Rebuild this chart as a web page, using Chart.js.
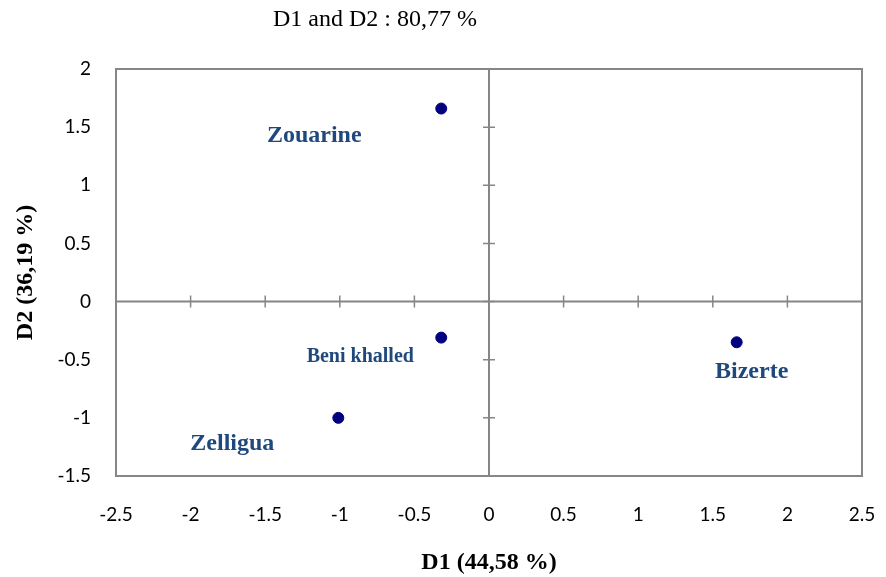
<!DOCTYPE html>
<html>
<head>
<meta charset="utf-8">
<script src="https://cdn.jsdelivr.net/npm/chart.js@4/dist/chart.umd.min.js"></script>
<style>
  html, body { margin: 0; padding: 0; background: #ffffff; }
  #wrap { width: 886px; height: 577px; }
</style>
</head>
<body>
<div id="wrap"><canvas id="c" width="886" height="577"></canvas></div>
<script>
// ---- data ----
const siteNames = ["Zouarine", "Beni khalled", "Zelligua", "Bizerte"];
const d1Values = [-0.32, -0.32, -1.01, 1.66];
const d2Values = [1.66, -0.31, -1.00, -0.35];
const chartTitle = "D1 and D2 : 80,77 %";
const xAxisTitle = "D1 (44,58 %)";
const yAxisTitle = "D2 (36,19 %)";
const xRange = [-2.5, 2.5];
const yRange = [-1.5, 2];

// ---- label styling (offsets in px from each point) ----
const labelStyle = [
  { dx: -127, dy: 27, size: 24 },
  { dx: -81, dy: 19, size: 20 },
  { dx: -106, dy: 26, size: 24 },
  { dx: 15, dy: 30, size: 24 }
];

const points = d1Values.map((x, i) => ({ x: x, y: d2Values[i] }));

const axisColor = "#868686";

const framePlugin = {
  id: "frame",
  beforeDatasetsDraw(chart) {
    const { ctx, chartArea: a, scales } = chart;
    const xs = scales.x, ys = scales.y;
    ctx.save();
    ctx.strokeStyle = axisColor;
    ctx.lineWidth = 2;
    ctx.strokeRect(a.left, a.top, a.right - a.left, a.bottom - a.top);
    const x0 = xs.getPixelForValue(0);
    const y0 = ys.getPixelForValue(0);
    ctx.beginPath();
    ctx.moveTo(a.left, y0); ctx.lineTo(a.right, y0);
    ctx.moveTo(x0, a.top); ctx.lineTo(x0, a.bottom);
    ctx.stroke();
    // cross tick marks on zero axes
    ctx.lineWidth = 1.5;
    ctx.beginPath();
    xs.ticks.forEach(t => {
      const px = xs.getPixelForValue(t.value);
      ctx.moveTo(px, y0 - 6); ctx.lineTo(px, y0 + 6);
    });
    ys.ticks.forEach(t => {
      const py = ys.getPixelForValue(t.value);
      ctx.moveTo(x0 - 6, py); ctx.lineTo(x0 + 6, py);
    });
    ctx.stroke();
    ctx.restore();
  },
  afterDatasetsDraw(chart) {
    const { ctx } = chart;
    const meta = chart.getDatasetMeta(0);
    ctx.save();
    ctx.fillStyle = "#1f497d";
    ctx.textAlign = "center";
    ctx.textBaseline = "middle";
    meta.data.forEach((el, i) => {
      const st = labelStyle[i];
      ctx.font = "bold " + st.size + "px 'Liberation Serif', 'Times New Roman', serif";
      ctx.fillText(siteNames[i], el.x + st.dx, el.y + st.dy);
    });
    // chart title
    ctx.fillStyle = "#000000";
    ctx.font = "24px 'Liberation Serif', 'Times New Roman', serif";
    ctx.fillText(chartTitle, 375, 20);
    ctx.restore();
  }
};

const fmt = v => String(Math.round(v * 10) / 10);

new Chart(document.getElementById("c"), {
  type: "scatter",
  data: {
    datasets: [{
      label: "sites",
      data: points,
      backgroundColor: "#000080",
      borderColor: "#000080",
      pointRadius: 5.5,
      pointHoverRadius: 5.5
    }]
  },
  options: {
    responsive: false,
    animation: false,
    events: [],
    layout: { padding: { top: 69, right: 24, left: 0, bottom: 0 } },
    plugins: {
      legend: { display: false },
      title: { display: false },
      tooltip: { enabled: false }
    },
    scales: {
      x: {
        type: "linear",
        min: xRange[0], max: xRange[1],
        grid: { display: false, drawTicks: false },
        border: { display: false },
        ticks: {
          stepSize: 0.5,
          padding: 27,
          color: "#000000",
          callback: fmt,
          font: { family: "Lato, 'Liberation Sans', sans-serif", size: 19 }
        },
        title: {
          display: true,
          text: xAxisTitle,
          color: "#000000",
          padding: { top: 0, bottom: 0 },
          font: { family: "'Liberation Serif', 'Times New Roman', serif", size: 24, weight: "bold" }
        },
        afterFit(scale) { scale.height = 101; scale.paddingRight = 0; scale.paddingLeft = 0; }
      },
      y: {
        type: "linear",
        min: yRange[0], max: yRange[1],
        grid: { display: false, drawTicks: false },
        border: { display: false },
        ticks: {
          stepSize: 0.5,
          padding: 25,
          color: "#000000",
          callback: fmt,
          font: { family: "Lato, 'Liberation Sans', sans-serif", size: 19 }
        },
        title: {
          display: true,
          text: yAxisTitle,
          color: "#000000",
          padding: { top: 11, bottom: 0 },
          font: { family: "'Liberation Serif', 'Times New Roman', serif", size: 24, weight: "bold" }
        },
        afterFit(scale) { scale.width = 116; scale.paddingTop = 0; scale.paddingBottom = 0; }
      }
    }
  },
  plugins: [framePlugin]
});
</script>
</body>
</html>
